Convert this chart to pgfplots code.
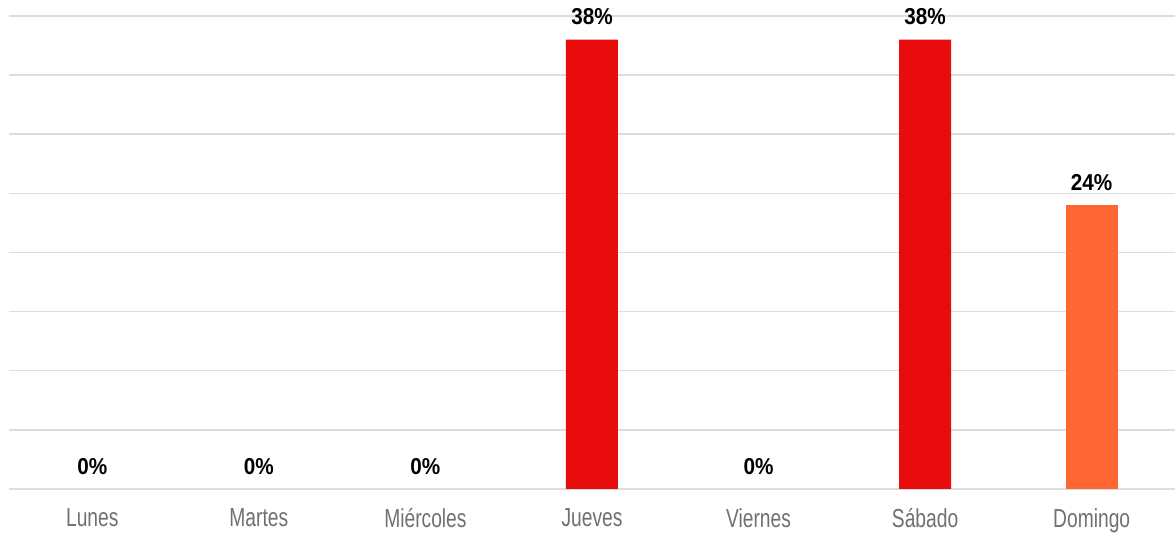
\documentclass[border=0pt]{standalone}
\usepackage{fontspec}
\setmainfont[FakeStretch=0.74]{Liberation Sans}
\newfontfamily\valfont[FakeStretch=0.9]{Liberation Sans}
\usepackage{pgfplots}
\pgfplotsset{compat=1.18}
\definecolor{barred}{HTML}{E80C0C}
\definecolor{barorange}{HTML}{FF6633}
\definecolor{gridgray}{HTML}{DDDDDD}
\definecolor{ticktext}{HTML}{707070}
\begin{document}
\begin{tikzpicture}
\path[use as bounding box] (-9pt,-46pt) rectangle (1166pt,489pt);
\begin{axis}[
  at={(0,0)}, anchor=south west,
  scale only axis,
  width=1166pt, height=473pt,
  xmin=-0.5, xmax=6.5,
  ymin=0, ymax=40,
  axis line style={draw=none},
  xtick={0,1,2,3,4,5,6},
  xticklabels={Lunes,Martes,Miércoles,Jueves,Viernes,Sábado,Domingo},
  ytick={0,5,...,40},
  yticklabels={},
  ymajorgrids,
  major grid style={draw=gridgray, line width=1.5pt},
  major tick length=0pt,
  xticklabel style={font=\fontsize{26}{30}\selectfont, text=ticktext, yshift=-16pt},
  clip=false,
  ybar, bar width=52pt, bar shift=0pt,
  /pgf/number format/assume math mode=true,
  nodes near coords={\pgfmathprintnumber{\pgfplotspointmeta}\%},
  every node near coord/.append style={font=\valfont\bfseries\fontsize{23}{27}\selectfont, text=black, yshift=11pt},
]
\addplot[fill=none, draw=none] coordinates {(0,0) (1,0) (2,0) (4,0)};
\addplot[fill=barred, draw=none] coordinates {(3,38) (5,38)};
\addplot[fill=barorange, draw=none] coordinates {(6,24)};
\end{axis}
\end{tikzpicture}
\end{document}
